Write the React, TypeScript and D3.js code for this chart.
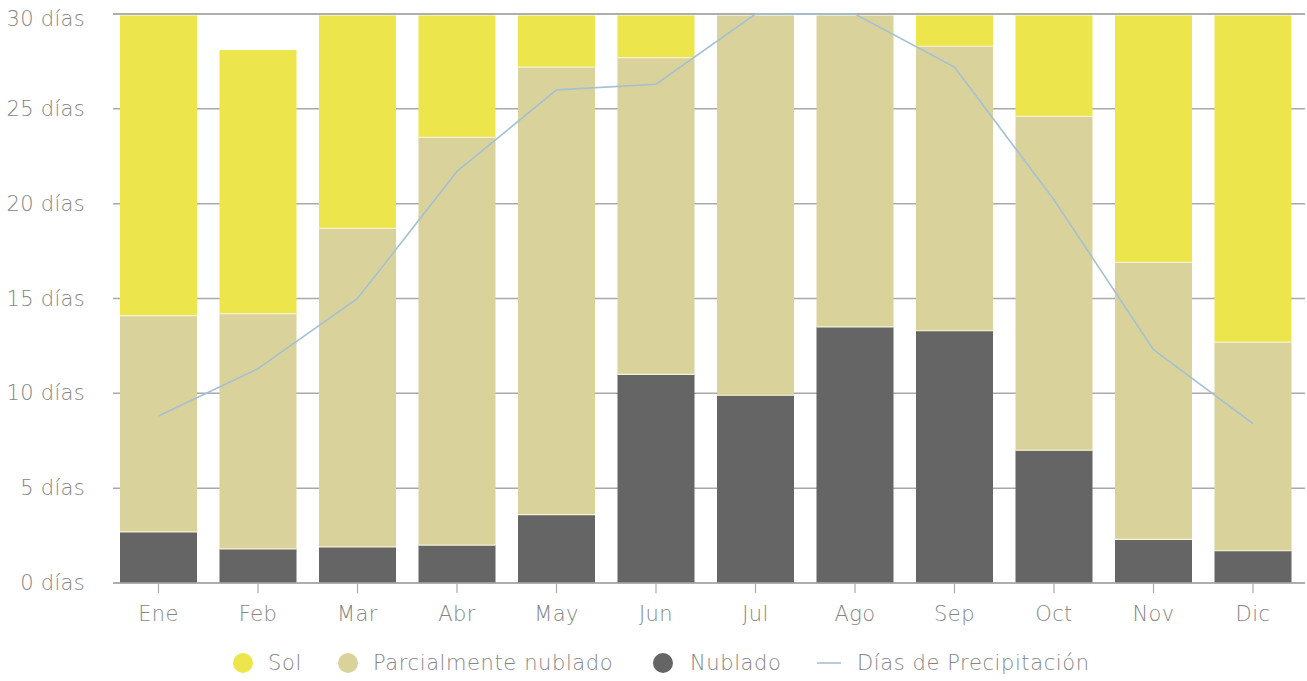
import React from "react";
import * as d3 from "d3";

const months = ["Ene", "Feb", "Mar", "Abr", "May", "Jun", "Jul", "Ago", "Sep", "Oct", "Nov", "Dic"];
const nublado = [2.7, 1.8, 1.9, 2.0, 3.6, 11.0, 9.9, 13.5, 13.3, 7.0, 2.3, 1.7];
const parcial = [11.4, 12.4, 16.8, 21.5, 23.6, 16.7, 20.1, 16.5, 15.0, 17.6, 14.6, 11.0];
const sol = [15.9, 13.9, 11.3, 6.5, 2.8, 2.3, 0, 0, 1.7, 5.4, 13.1, 17.3];
const precipitacion = [8.8, 11.3, 15.0, 21.7, 26.0, 26.3, 30, 30, 27.2, 20.2, 12.3, 8.4];
const yTicks = [0, 5, 10, 15, 20, 25, 30];

const seriesKeys = ["nublado", "parcial", "sol"];
const seriesColors: Record<string, string> = {
  nublado: "#656565",
  parcial: "#d9d39b",
  sol: "#ece54c",
};

const W = 1307;
const H = 681;
const FONT = "'DejaVu Sans', sans-serif";
const TEXT = "#858585";

export default function App() {
  const rows = months.map((m, i) => ({ month: m, nublado: nublado[i], parcial: parcial[i], sol: sol[i] }));
  const stack = d3.stack<any>().keys(seriesKeys)(rows);

  const x = d3.scaleBand<string>().domain(months).range([108.75, 1302.75]).paddingInner(0.226).paddingOuter(0.113);
  const y = d3.scaleLinear().domain([0, 30]).range([583, 14]);
  const gridX0 = 113;
  const gridX1 = 1305;
  const bw = x.bandwidth();

  const line = d3
    .line<number>()
    .x((_, i) => (x(months[i]) as number) + bw / 2)
    .y((d) => y(d));

  const legend = [
    { type: "dot", color: seriesColors.sol, label: "Sol", cx: 243, tx: 268 },
    { type: "dot", color: seriesColors.parcial, label: "Parcialmente nublado", cx: 348, tx: 373 },
    { type: "dot", color: seriesColors.nublado, label: "Nublado", cx: 663, tx: 690 },
    { type: "line", color: "#a5c0d2", label: "Días de Precipitación", cx: 829, tx: 857 },
  ];

  return (
    <svg width={W} height={H} style={{ position: "absolute", left: 0, top: 0 }} fontFamily={FONT}>
      <rect width={W} height={H} fill="#ffffff" />
      {/* grid lines behind bars */}
      {yTicks.map((t) => (
        <line key={"g" + t} x1={gridX0} x2={gridX1} y1={y(t)} y2={y(t)} stroke="#a9a9a9" strokeWidth={1.5} />
      ))}
      {/* stacked bars */}
      {stack.map((s) => (
        <g key={s.key} fill={seriesColors[s.key]}>
          {s.map((d, i) =>
            d[1] - d[0] > 0 ? (
              <rect
                key={i}
                x={x(months[i])}
                y={y(d[1]) + (d[1] >= 29.99 ? 1.5 : 0)}
                width={bw}
                height={y(d[0]) - y(d[1]) - (d[1] >= 29.99 ? 1.5 : 0)}
                stroke={d[0] > 0 ? "none" : "none"}
              />
            ) : null
          )}
        </g>
      ))}
      {/* thin light separators between stack segments */}
      {stack.slice(0, 2).map((s) => (
        <g key={"sep" + s.key}>
          {s.map((d, i) =>
            d[1] < 29.99 ? (
              <line
                key={i}
                x1={x(months[i])}
                x2={(x(months[i]) as number) + bw}
                y1={y(d[1])}
                y2={y(d[1])}
                stroke="#f4f1d6"
                strokeWidth={1.2}
              />
            ) : null
          )}
        </g>
      ))}
      {/* top and base lines */}
      <line x1={gridX0} x2={gridX1} y1={y(30)} y2={y(30)} stroke="#a9a9a9" strokeWidth={1.5} />
      <line x1={gridX0} x2={gridX1} y1={y(0)} y2={y(0)} stroke="#a9a9a9" strokeWidth={1.5} />
      {/* precipitation line */}
      <path d={line(precipitacion) || ""} fill="none" stroke="#a5c0d2" strokeWidth={1.6} />
      {/* x ticks and labels */}
      {months.map((m) => {
        const cx = (x(m) as number) + bw / 2;
        return (
          <g key={"x" + m}>
            <line x1={cx} x2={cx} y1={584} y2={593} stroke="#a9a9a9" strokeWidth={1.2} />
            <text x={cx} y={614} textAnchor="middle" dominantBaseline="central" fontSize={21} fill={TEXT} fontWeight={200} letterSpacing={0.4}>
              {m}
            </text>
          </g>
        );
      })}
      {/* y labels */}
      {yTicks.map((t) => (
        <text
          key={"y" + t}
          x={85}
          y={y(t) + (t === 30 ? 5 : 0)}
          textAnchor="end"
          dominantBaseline="central"
          fontSize={21}
          fill={TEXT}
          fontWeight={200}
          letterSpacing={0.3}
        >
          {t} días
        </text>
      ))}
      {/* legend */}
      {legend.map((l) => (
        <g key={l.label}>
          {l.type === "dot" ? (
            <circle cx={l.cx} cy={663} r={10} fill={l.color} />
          ) : (
            <line x1={l.cx - 12} x2={l.cx + 12} y1={663} y2={663} stroke={l.color} strokeWidth={1.6} />
          )}
          <text x={l.tx} y={663} dominantBaseline="central" fontSize={21} fill={TEXT} fontWeight={200} letterSpacing={0.6}>
            {l.label}
          </text>
        </g>
      ))}
    </svg>
  );
}
